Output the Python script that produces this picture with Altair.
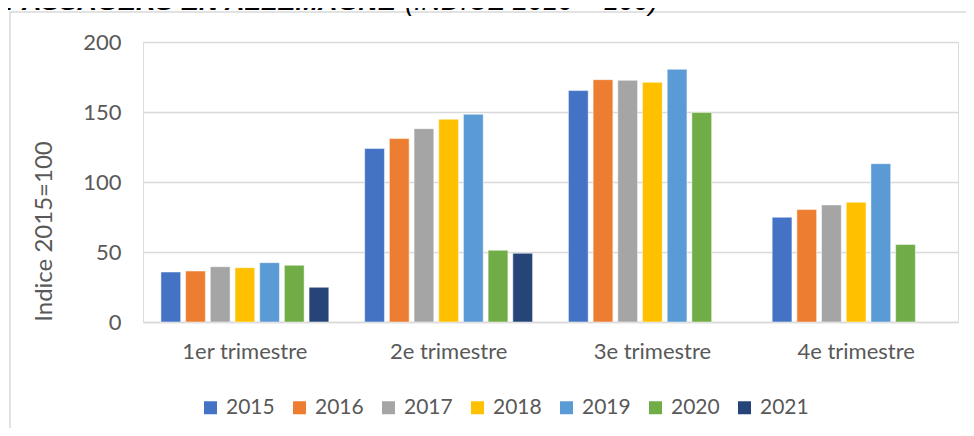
import altair as alt
import pandas as pd

quarters = ["1er trimestre", "2e trimestre", "3e trimestre", "4e trimestre"]
years = ["2015", "2016", "2017", "2018", "2019", "2020", "2021"]
colors = ["#4472C4", "#ED7D31", "#A5A5A5", "#FFC000", "#5B9BD5", "#70AD47", "#264478"]

q1 = [35.7, 36.4, 39.5, 38.8, 42.4, 40.5, 24.8]
q2 = [123.9, 131.0, 138.1, 144.8, 148.4, 51.2, 49.1]
q3 = [165.3, 173.1, 172.6, 171.2, 180.5, 149.6]
q4 = [74.8, 80.3, 83.6, 85.5, 113.1, 55.3]

title_bold = "PASSAGERS EN ALLEMAGNE"
title_rest = "(INDICE 2010 = 100)"
y_title = "Indice 2015=100"

rows = []
for q, vals in zip(quarters, [q1, q2, q3, q4]):
    for yr, v in zip(years, vals):
        rows.append({"quarter": q, "year": yr, "value": v})
df = pd.DataFrame(rows)

FONT = "Lato"
GREY = "#595959"

bars = alt.Chart(df).mark_bar(stroke="white", strokeWidth=0.8, strokeOpacity=0.6).encode(
    x=alt.X("quarter:N", sort=quarters,
            scale=alt.Scale(paddingInner=0.176, paddingOuter=0.088),
            axis=alt.Axis(title=None, labelAngle=0, labelFont=FONT, labelFontSize=22,
                          labelColor=GREY, labelPadding=19, ticks=False, tickSize=0,
                          domainColor="#D9D9D9", domainWidth=1.5, grid=False)),
    xOffset=alt.XOffset("year:N", sort=years,
                        scale=alt.Scale(domain=years, paddingInner=0.2)),
    y=alt.Y("value:Q", scale=alt.Scale(domain=[0, 200]),
            axis=alt.Axis(values=[0, 50, 100, 150, 200], title=y_title,
                          titleFont=FONT, titleFontSize=24, titleFontWeight="normal",
                          titleColor=GREY, titleX=-99, titleY=189, titleBaseline="middle",
                          titleAlign="center", titleAngle=270,
                          labelFont=FONT, labelFontSize=22, labelColor=GREY,
                          labelPadding=22, ticks=False, tickSize=0, domain=False,
                          grid=True, gridColor="#D9D9D9", gridWidth=1.5)),
    color=alt.Color("year:N", sort=years,
                    scale=alt.Scale(domain=years, range=colors),
                    legend=alt.Legend(orient="none", legendX=57, legendY=355,
                                      direction="horizontal", columns=7, title=None,
                                      symbolType="square", symbolSize=169,
                                      symbolStrokeWidth=0, labelFont=FONT,
                                      labelFontSize=21, labelColor=GREY,
                                      labelOffset=5, columnPadding=14, padding=0)),
)

tdf1 = pd.DataFrame({"t": [title_bold]})
tdf2 = pd.DataFrame({"t": [title_rest]})

t1 = alt.Chart(tdf1).mark_text(font="Liberation Sans", fontSize=27, fontWeight="bold",
                               fontStyle="italic", align="left", baseline="alphabetic",
                               color="black").encode(
    x=alt.value(-137), y=alt.value(-32), text="t:N")
t2 = alt.Chart(tdf2).mark_text(font="Liberation Sans", fontSize=27, fontWeight="normal",
                               fontStyle="italic", align="left", baseline="alphabetic",
                               color="black").encode(
    x=alt.value(262), y=alt.value(-32), text="t:N")

border = alt.Chart(pd.DataFrame({"b": [1]})).mark_rect(
    fill="white", fillOpacity=0, stroke="#D9D9D9", strokeWidth=1.5).encode(
    x=alt.value(-133), x2=alt.value(1200), y=alt.value(-30), y2=alt.value(700))

chart = alt.layer(border, bars, t1, t2).properties(
    width=815, height=280,
    padding={"left": 135, "top": 34, "right": 8, "bottom": 106},
    autosize=alt.AutoSizeParams(type="none"),
).configure_view(stroke=None).configure(background="white")

chart.save("out.html", embed_options={"renderer": "svg", "actions": False})
